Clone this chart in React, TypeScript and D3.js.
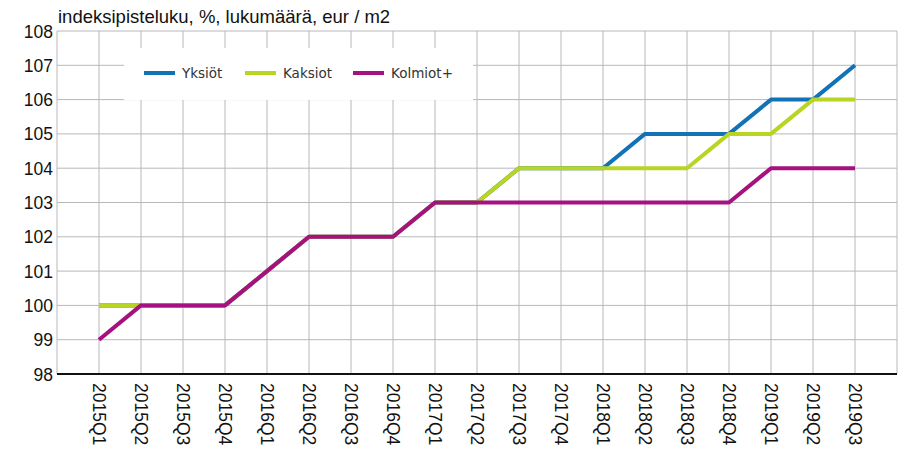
import React from "react";
import * as d3 from "d3";

const categories = ["2015Q1","2015Q2","2015Q3","2015Q4","2016Q1","2016Q2","2016Q3","2016Q4","2017Q1","2017Q2","2017Q3","2017Q4","2018Q1","2018Q2","2018Q3","2018Q4","2019Q1","2019Q2","2019Q3"];
const yksiot = [100,100,100,100,101,102,102,102,103,103,104,104,104,105,105,105,106,106,107];
const kaksiot = [100,100,100,100,101,102,102,102,103,103,104,104,104,104,104,105,105,106,106];
const kolmiot = [99,100,100,100,101,102,102,102,103,103,103,103,103,103,103,103,104,104,104];
const yTicks = [98,99,100,101,102,103,104,105,106,107,108];
const seriesNames = ["Yksiöt","Kaksiot","Kolmiot+"];
const seriesColors = ["#1172b6","#b8d523","#a5117f"];
const title = "indeksipisteluku, %, lukumäärä, eur / m2";

export default function App() {
  const W = 904, H = 451;
  const left = 57, right = 897, top = 31, bottom = 374;
  const x = d3.scalePoint<string>().domain(categories).range([left, right]).padding(1);
  const y = d3.scaleLinear().domain([98, 108]).range([bottom, top]);
  const series = [yksiot, kaksiot, kolmiot];
  const line = d3.line<number>().x((_, i) => x(categories[i]) as number).y(d => y(d));
  const font = "'Liberation Sans', Arial, sans-serif";
  const grid = "#b8b8bc";
  const legendX = [144, 245, 353];
  return (
    <svg width={W} height={H} style={{ position: "absolute", left: 0, top: 0, background: "#fff" }}>
      <rect x={0} y={0} width={W} height={H} fill="#fff" />
      <text x={58} y={23} fontFamily={font} fontSize={18.5} fill="#111">{title}</text>
      {yTicks.map(t => (
        <g key={t}>
          <line x1={left} x2={right} y1={y(t)} y2={y(t)} stroke={grid} strokeWidth={1} />
          <text x={53} y={y(t) + 6.5} textAnchor="end" fontFamily={font} fontSize={17.5} fill="#111">{t}</text>
        </g>
      ))}
      <line x1={left} x2={left} y1={top} y2={bottom} stroke={grid} strokeWidth={1} />
      <line x1={right} x2={right} y1={top} y2={bottom} stroke={grid} strokeWidth={1} />
      {categories.map(c => (
        <g key={c}>
          <line x1={x(c)} x2={x(c)} y1={top} y2={bottom} stroke={grid} strokeWidth={1} />
          <text transform={`translate(${(x(c) as number) - 6.5},383) rotate(90)`} fontFamily={font} fontSize={17.5} fill="#111">{c}</text>
        </g>
      ))}
      <rect x={124} y={48} width={349} height={52} fill="#fff" />
      {seriesNames.map((n, i) => (
        <g key={n}>
          <line x1={legendX[i]} x2={legendX[i] + 31} y1={73} y2={73} stroke={seriesColors[i]} strokeWidth={4} />
          <text x={legendX[i] + 38} y={78} fontFamily="'DejaVu Sans', Verdana, sans-serif" fontSize={13.5} fill="#333">{n}</text>
        </g>
      ))}
      <line x1={left} x2={right} y1={bottom} y2={bottom} stroke="#111" strokeWidth={2} />
      {series.map((s, i) => (
        <path key={i} d={line(s) as string} fill="none" stroke={seriesColors[i]} strokeWidth={4} strokeLinejoin="round" />
      ))}
    </svg>
  );
}
